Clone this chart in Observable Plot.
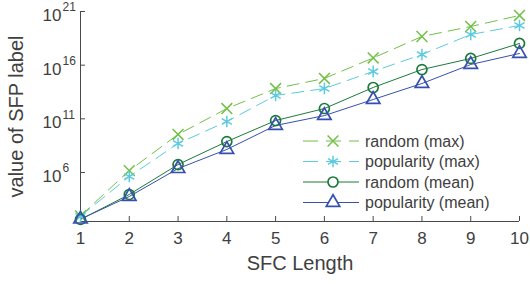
<!DOCTYPE html>
<html>
<head>
<meta charset="utf-8">
<script src="https://cdn.jsdelivr.net/npm/d3@7"></script>
<script src="https://cdn.jsdelivr.net/npm/@observablehq/plot@0.6"></script>
<style>
  html, body { margin: 0; padding: 0; background: #fff; }
  #chart { width: 530px; height: 286px; }
  svg { font-family: "Liberation Sans", Arial, Helvetica, sans-serif; }
</style>
</head>
<body>
<div id="chart"></div>
<script>
// ---- data ----
const sfcLength = [1, 2, 3, 4, 5, 6, 7, 8, 9, 10];
const randomMax = [90, 1.5e6, 3.5e9, 9e11, 6.6e13, 5.8e14, 4.7e16, 4.7e18, 4e19, 4.3e20];
const popularityMax = [85, 4.2e5, 5e8, 5.6e10, 1.5e13, 6.6e13, 2.6e15, 9.8e16, 7.2e18, 5e19];
const randomMean = [42, 8.9e3, 5.5e6, 7.6e8, 6.9e10, 9.1e11, 8.3e13, 3.9e15, 4.2e16, 1.05e18];
const popularityMean = [45, 5.8e3, 2.3e6, 1.4e8, 2.4e10, 2e11, 6.3e12, 1.95e14, 1.15e16, 1.23e17];
const seriesNames = ["random (max)", "popularity (max)", "random (mean)", "popularity (mean)"];
const yTicks = [1e6, 1e11, 1e16, 1e21];
const yDomain = [27, 1e21];

// ---- styles ----
const styles = {
  "random (max)": {color: "#72c045", symbol: "times", dash: "12,7", r: 5, sw: 1.5},
  "popularity (max)": {color: "#5ccae0", symbol: "asterisk", dash: "12,7", r: 5.5, sw: 1.5},
  "random (mean)": {color: "#1c7a3c", symbol: "circle", dash: null, r: 5, sw: 1.7},
  "popularity (mean)": {color: "#3650ae", symbol: "triangle", dash: null, r: 5, sw: 1.7}
};
const values = [randomMax, popularityMax, randomMean, popularityMean];
const table = seriesNames.flatMap((name, i) =>
  sfcLength.map((x, j) => ({series: name, x, y: values[i][j]})));

const textColor = "#404040";
const axisColor = "#4a4a4a";

const marks = [];
// axis lines
marks.push(Plot.ruleY([yDomain[0]], {stroke: axisColor, strokeWidth: 1}));
marks.push(Plot.ruleX([sfcLength[0]], {stroke: axisColor, strokeWidth: 1}));
// x axis with inward ticks
marks.push(Plot.axisX({ticks: sfcLength, tickSize: -5, tickPadding: 15, tickFormat: d => String(d),
  fontSize: 17, color: textColor, stroke: axisColor, label: null}));
// y axis ticks (labels drawn separately as 10^n)
marks.push(Plot.axisY({ticks: yTicks, tickSize: -5, tickFormat: () => "", stroke: axisColor, label: null}));
marks.push(Plot.text(yTicks, {y: d => d, text: () => "10", frameAnchor: "left", textAnchor: "end",
  dx: -19, dy: 4, fontSize: 17, fill: textColor}));
marks.push(Plot.text(yTicks, {y: d => d, text: d => String(Math.round(Math.log10(d))), frameAnchor: "left",
  textAnchor: "start", dx: -18, dy: -4, fontSize: 12, fill: textColor}));
// axis titles
marks.push(Plot.text(["SFC Length"], {text: d => d, frameAnchor: "bottom", textAnchor: "middle", dy: 48, fontSize: 20, fill: textColor}));
marks.push(Plot.text(["value of SFP label"], {text: d => d, frameAnchor: "left", textAnchor: "middle", rotate: -90, dx: -64, fontSize: 20, fill: textColor}));

// series
for (const name of seriesNames) {
  const s = styles[name];
  const data = table.filter(d => d.series === name);
  marks.push(Plot.line(data, {x: "x", y: "y", stroke: s.color, strokeWidth: 1, strokeDasharray: s.dash || undefined}));
}
for (const name of seriesNames) {
  const s = styles[name];
  const data = table.filter(d => d.series === name);
  marks.push(Plot.dot(data, {x: "x", y: "y", symbol: s.symbol, stroke: s.color, fill: "none", r: s.r, strokeWidth: s.sw}));
}

const chart = Plot.plot({
  width: 530,
  height: 286,
  marginLeft: 80,
  marginRight: 11,
  marginTop: 11,
  marginBottom: 65,
  style: {fontFamily: '"Liberation Sans", Arial, sans-serif', background: "white"},
  x: {domain: [1, 10], axis: null},
  y: {type: "log", domain: yDomain, axis: null},
  marks
});

// ---- legend (inside plot area, lower right) ----
const svg = d3.select(chart);
const lg = svg.append("g").attr("class", "legend");
const symbolMap = {times: d3.symbolTimes, asterisk: d3.symbolAsterisk, circle: d3.symbolCircle, triangle: d3.symbolTriangle};
seriesNames.forEach((name, i) => {
  const s = styles[name];
  const y = 141 + i * 20.5;
  const g = lg.append("g").attr("transform", `translate(0,${y})`);
  g.append("line").attr("x1", 303).attr("x2", 359).attr("y1", 0).attr("y2", 0)
    .attr("stroke", s.color).attr("stroke-width", 1)
    .attr("stroke-dasharray", s.dash ? "15,8" : null);
  g.append("path").attr("transform", "translate(333,0)")
    .attr("d", d3.symbol(symbolMap[s.symbol], Math.PI * s.r * s.r)())
    .attr("fill", "white").attr("stroke", s.color).attr("stroke-width", s.sw);
  g.append("text").attr("x", 365).attr("y", 0).attr("dy", "0.35em")
    .attr("text-anchor", "start")
    .attr("font-size", 16).attr("fill", textColor).text(name);
});

document.getElementById("chart").appendChild(chart);
</script>
</body>
</html>
